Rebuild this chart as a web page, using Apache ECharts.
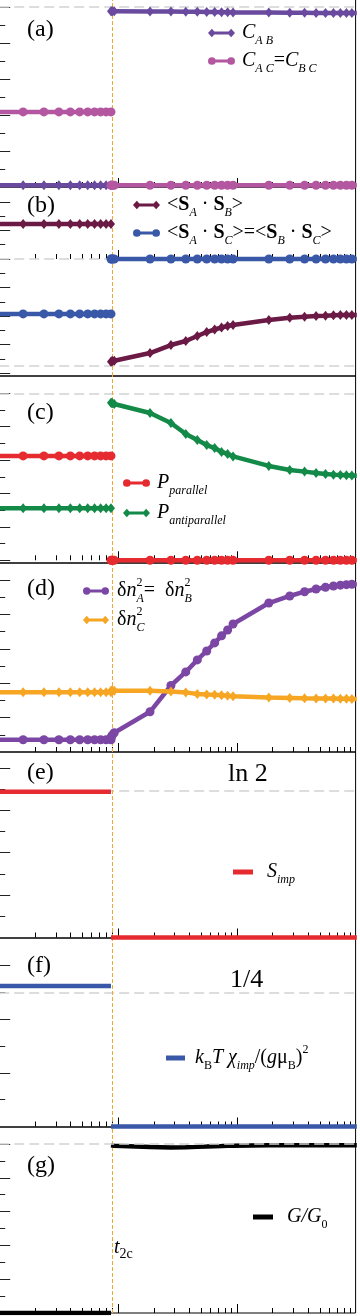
<!DOCTYPE html>
<html><head><meta charset="utf-8">
<script src="https://cdn.jsdelivr.net/npm/echarts@6/dist/echarts.min.js"></script>
<style>html,body{margin:0;padding:0;background:#fff}#c{width:360px;height:1316px}</style>
</head><body><div id="c"></div><script>
// ---------------- data ----------------
const T2C = 0.0873;
const tLeft  = [0.0079, 0.0159, 0.0238, 0.0318, 0.0397, 0.0476, 0.0556, 0.0635, 0.0714, 0.0794, 0.0873];
const tRight = [0.0873, 0.0885, 0.09, 0.093, 0.186, 0.279, 0.372, 0.465, 0.558, 0.651, 0.744, 0.837, 0.93,
                1.86, 2.79, 3.72, 4.65, 5.58, 6.51, 7.44, 8.37, 9.3, 10.23];

// (a) concurrences
const cAB_L = [0.01,0.01,0.01,0.01,0.01,0.01,0.01,0.01,0.01,0.01,0.01];
const cAB_R = [0.976,0.976,0.976,0.976,0.975,0.975,0.974,0.973,0.972,0.972,0.971,0.971,0.970,0.969,0.968,0.968,0.967,0.967,0.967,0.967,0.967,0.967,0.967];
const cAC_L = [0.417,0.417,0.417,0.417,0.417,0.417,0.417,0.417,0.417,0.417,0.417];
const cAC_R = [0.01,0.01,0.01,0.01,0.01,0.01,0.01,0.01,0.01,0.01,0.01,0.01,0.01,0.01,0.01,0.01,0.01,0.01,0.01,0.01,0.01,0.01,0.01];
// (b) spin correlations
const sAB_L = [0.245,0.245,0.245,0.245,0.245,0.245,0.245,0.245,0.245,0.245,0.245];
const sAB_R = [-0.72,-0.717,-0.715,-0.713,-0.659,-0.603,-0.575,-0.54,-0.512,-0.494,-0.48,-0.47,-0.4625,-0.427,-0.411,-0.404,-0.399,-0.397,-0.395,-0.393,-0.392,-0.392,-0.392];
const sAC_L = [-0.385,-0.385,-0.385,-0.385,-0.385,-0.385,-0.385,-0.385,-0.385,-0.385,-0.385];
const sAC_R = [0,0,0,0,0,0,0,0,0,0,0,0,0,0,0,0,0,0,0,0,0,0,0];
// (c) probabilities
const pPar_L = [0.625,0.625,0.625,0.625,0.625,0.625,0.625,0.625,0.625,0.625,0.625];
const pPar_R = [0,0,0,0,0,0,0,0,0,0,0,0,0,0,0,0,0,0,0,0,0,0,0];
const pAnti_L = [0.311,0.311,0.311,0.311,0.311,0.311,0.311,0.311,0.311,0.311,0.311];
const pAnti_R = [0.944,0.942,0.94,0.936,0.882,0.822,0.756,0.72,0.69,0.672,0.649,0.637,0.622,0.565,0.541,0.531,0.523,0.517,0.513,0.511,0.509,0.508,0.507];
// (d) charge fluctuations
const dnAB_L = [0.071,0.071,0.071,0.071,0.071,0.071,0.071,0.071,0.071,0.071,0.071];
const dnAB_R = [0.083,0.094,0.1,0.112,0.234,0.387,0.466,0.536,0.588,0.635,0.676,0.71,0.745,0.867,0.908,0.933,0.949,0.959,0.966,0.971,0.974,0.976,0.977];
const dnC_L = [0.348,0.348,0.348,0.348,0.348,0.348,0.348,0.348,0.348,0.348,0.348];
const dnC_R = [0.356,0.357,0.357,0.356,0.356,0.352,0.347,0.338,0.335,0.333,0.33,0.327,0.324,0.317,0.315,0.313,0.312,0.311,0.311,0.31,0.31,0.309,0.309];
// (e) entropy
const sImp_L = [0.688,0.688,0.688,0.688,0.688,0.688,0.688,0.688,0.688,0.688,0.688];
const sImp_R = [0,0,0,0,0,0,0,0,0,0,0,0,0,0,0,0,0,0,0,0,0,0,0];
// (f) susceptibility
const chi_L = [0.262,0.262,0.262,0.262,0.262,0.262,0.262,0.262,0.262,0.262,0.262];
const chi_R = [0,0,0,0,0,0,0,0,0,0,0,0,0,0,0,0,0,0,0,0,0,0,0];
// (g) conductance
const g_L = [0,0,0,0,0,0,0,0,0,0,0];
const g_R = [0.993,0.993,0.992,0.99,0.982,0.98,0.981,0.983,0.985,0.987,0.988,0.989,0.99,0.992,0.993,0.993,0.993,0.993,0.993,0.993,0.993,0.993,0.993];

// reference lines
const refA = [1.0], refB = [0, -0.75], refC = [1.0], refE = [0.693], refF = [0.25], refG = [1.0];

// ticks
const xMajorTicks = [0.1, 1];
const xMinorTicks = [0.02,0.03,0.04,0.05,0.06,0.07,0.08,0.09,0.2,0.3,0.4,0.5,0.6,0.7,0.8,0.9,2,3,4,5,6,7,8,9];
const yMajA = [0.2,0.4,0.6,0.8,1.0], yMinA = [0.1,0.3,0.5,0.7,0.9];
const yMajB = [-0.8,-0.6,-0.4,-0.2,0,0.2,0.4], yMinB = [-0.7,-0.5,-0.3,-0.1,0.1,0.3];
const yMajC = [0,0.2,0.4,0.6,0.8,1.0], yMinC = [0.1,0.3,0.5,0.7,0.9];
const yMajD = [0.2,0.4,0.6,0.8,1.0], yMinD = [0.1,0.3,0.5,0.7,0.9];
const yMajE = [0.2,0.4,0.6,0.8], yMinE = [0.1,0.3,0.5,0.7];
const yMajF = [0.1,0.2,0.3], yMinF = [0.05,0.15,0.25];
const yMajG = [0.2,0.4,0.6,0.8,1.0], yMinG = [0.1,0.3,0.5,0.7,0.9];

// ---------------- layout / style ----------------
const SERIF = '"Liberation Serif","DejaVu Serif",serif';
const panels = [
  {top:-2,  bottom:187,  ymin:0,       ymax:1.05,   maj:yMajA, min:yMinA, refs:refA, refZ:1},
  {top:187, bottom:376,  ymin:-0.82,   ymax:0.5046, maj:yMajB, min:yMinB, refs:refB, refZ:1},
  {top:376, bottom:563,  ymin:-0.0162, ymax:1.1036, maj:yMajC, min:yMinC, refs:refC, refZ:1},
  {top:563, bottom:752,  ymin:0,       ymax:1.1,    maj:yMajD, min:yMinD, refs:[],   refZ:1},
  {top:752, bottom:938,  ymin:-0.0024, ymax:0.875,  maj:yMajE, min:yMinE, refs:refE, refZ:1},
  {top:938, bottom:1127, ymin:-0.0009, ymax:0.3512, maj:yMajF, min:yMinF, refs:refF, refZ:1},
  {top:1127,bottom:1313, ymin:0,       ymax:1.1006, maj:yMajG, min:yMinG, refs:refG, refZ:6}
];

const grids=[], xAxes=[], yAxes=[], series=[];
panels.forEach((p,i)=>{
  grids.push({left:-0.8, width:356.4, top:p.top, height:p.bottom-p.top, show:true,
    borderColor:'#000', borderWidth:1, backgroundColor:'rgba(0,0,0,0)', containLabel:false, outerBoundsMode:'none'});
  const xa = (len, vals)=>({type:'log', logBase:10, gridIndex:i, min:0.01, max:10, position:'bottom',
    axisLine:{show:false}, axisLabel:{show:false}, splitLine:{show:false}, minorTick:{show:false},
    axisTick:{show:true, inside:true, length:len, customValues:vals, lineStyle:{color:'#000', width:1}}});
  xAxes.push(xa(9, xMajorTicks)); xAxes.push(xa(5, xMinorTicks));
  const ya = (len, vals)=>({type:'value', gridIndex:i, min:p.ymin, max:p.ymax, position:'left',
    axisLine:{show:false}, axisLabel:{show:false}, splitLine:{show:false},
    axisTick:{show:true, inside:true, length:len, customValues:vals, lineStyle:{color:'#222', width:1}}});
  yAxes.push(ya(11, p.maj)); yAxes.push(ya(6, p.min));
  if (p.refs.length) series.push({type:'line', name:'ref'+i, xAxisIndex:2*i, yAxisIndex:2*i, data:[], silent:true,
    markLine:{silent:true, animation:false, symbol:['none','none'], label:{show:false}, z:p.refZ,
      lineStyle:{color:'#d2d2d2', type:[10,5], width:1.5}, emphasis:{disabled:true},
      data:p.refs.map(v=>({yAxis:v}))}});
  series.push({type:'line', name:'t2c'+i, xAxisIndex:2*i, yAxisIndex:2*i, data:[], silent:true,
    markLine:{silent:true, animation:false, symbol:['none','none'], label:{show:false}, z:1,
      lineStyle:{color:'#f0a733', type:[4,2], width:1}, emphasis:{disabled:true},
      data:[{xAxis:T2C}]}});
});

function seg(name, gi, ts, vals, color, symbol, size){
  return {type:'line', name, xAxisIndex:2*gi, yAxisIndex:2*gi, data:ts.map((t,k)=>[t, vals[k]]),
    color, symbol, symbolSize:size, showSymbol:symbol!=='none', clip:true, z:3, animation:false,
    lineStyle:{width:4.5, color}, itemStyle:{color}, emphasis:{disabled:true}};
}
const C = {cab:'#6a4a9f', cac:'#b457a1', sab:'#6b1a45', sac:'#3a58a8', par:'#e62b30', anti:'#138a48',
           dab:'#7b46a4', dc:'#f6a623', s:'#e62b30', chi:'#3a58a8', g:'#000000'};
const DIA=[8,10], CIR=9;
series.push(
  seg('CAB',0,tLeft,cAB_L,C.cab,'diamond',DIA), seg('CAB',0,tRight,cAB_R,C.cab,'diamond',DIA),
  seg('CAC',0,tLeft,cAC_L,C.cac,'circle',CIR),  seg('CAC',0,tRight,cAC_R,C.cac,'circle',CIR),
  seg('SAB',1,tLeft,sAB_L,C.sab,'diamond',DIA), seg('SAB',1,tRight,sAB_R,C.sab,'diamond',DIA),
  seg('SAC',1,tLeft,sAC_L,C.sac,'circle',CIR),  seg('SAC',1,tRight,sAC_R,C.sac,'circle',CIR),
  seg('PPAR',2,tLeft,pPar_L,C.par,'circle',CIR), seg('PPAR',2,tRight,pPar_R,C.par,'circle',CIR),
  seg('PANTI',2,tLeft,pAnti_L,C.anti,'diamond',DIA), seg('PANTI',2,tRight,pAnti_R,C.anti,'diamond',DIA),
  seg('DNAB',3,tLeft,dnAB_L,C.dab,'circle',CIR), seg('DNAB',3,tRight,dnAB_R,C.dab,'circle',CIR),
  seg('DNC',3,tLeft,dnC_L,C.dc,'diamond',DIA),  seg('DNC',3,tRight,dnC_R,C.dc,'diamond',DIA),
  seg('SIMP',4,tLeft,sImp_L,C.s,'none',0),  seg('SIMP',4,tRight,sImp_R,C.s,'none',0),
  seg('CHI',5,tLeft,chi_L,C.chi,'none',0),  seg('CHI',5,tRight,chi_R,C.chi,'none',0),
  seg('GG0',6,tLeft,g_L,C.g,'none',0),      seg('GG0',6,tRight,g_R,C.g,'none',0)
);

const RICH = {
  i:{fontFamily:SERIF, fontStyle:'italic', fontSize:20, lineHeight:28, color:'#000'},
  r:{fontFamily:SERIF, fontSize:20, lineHeight:28, color:'#000'},
  b:{fontFamily:SERIF, fontWeight:'bold', fontSize:20, lineHeight:28, color:'#000'},
  s:{fontFamily:SERIF, fontStyle:'italic', fontSize:12, lineHeight:12, verticalAlign:'bottom', color:'#000'},
  sr:{fontFamily:SERIF, fontSize:12, lineHeight:12, verticalAlign:'bottom', color:'#000'},
  u:{fontFamily:SERIF, fontSize:12, lineHeight:12, verticalAlign:'top', color:'#000'},
  u0:{fontFamily:SERIF, fontSize:12, lineHeight:12, verticalAlign:'top', width:0, color:'#000'}
};
const LABELS = {
  CAB:'{i|C}{s|A B}',
  CAC:'{i|C}{s|A C}{r|=}{i|C}{s|B C}',
  SAB:'{r|<}{b|S}{s|A}{r| · }{b|S}{s|B}{r|>}',
  SAC:'{r|<}{b|S}{s|A}{r| · }{b|S}{s|C}{r|>=<}{b|S}{s|B}{r| · }{b|S}{s|C}{r|>}',
  PPAR:'{i|P}{s|parallel}',
  PANTI:'{i|P}{s|antiparallel}',
  DNAB:'{r|δ}{i|n}{u0|2}{s|A}{r|=  δ}{i|n}{u0|2}{s|B}',
  DNC:'{r|δ}{i|n}{u0|2}{s|C}',
  SIMP:'{i|S}{s|imp}',
  CHI:'{i|k}{sr|B}{i|T }{i|χ}{s|imp}{r|/(}{i|g}{r|μ}{sr|B}{r|)}{u|2}',
  GG0:'{i|G/G}{sr|0}'
};
const ICON_DIA = 'path://M0,5 L4,0.5 L8,5 L4,9.5 Z M4,3.4 L24,3.4 L24,6.6 L4,6.6 Z M20,5 L24,0.5 L28,5 L24,9.5 Z';
const ICON_CIR = 'path://M0,5 A4,4 0 1 1 8,5 A4,4 0 1 1 0,5 Z M4,3.4 L24,3.4 L24,6.6 L4,6.6 Z M20,5 A4,4 0 1 1 28,5 A4,4 0 1 1 20,5 Z';
const legendDefs = [
  {name:'CAB',  left:208, cy:37,   icon:ICON_DIA, w:27, h:9, pad:2},
  {name:'CAC',  left:208, cy:65,   icon:ICON_CIR, w:27, h:9, pad:2},
  {name:'SAB',  left:133, cy:209,  icon:ICON_DIA, w:27, h:9, pad:2},
  {name:'SAC',  left:133, cy:237,  icon:ICON_CIR, w:27, h:9, pad:2},
  {name:'PPAR', left:123, cy:487,  icon:ICON_CIR, w:27, h:9, pad:2},
  {name:'PANTI',left:123, cy:517,  icon:ICON_DIA, w:27, h:9, pad:2},
  {name:'DNAB', left:83,  cy:591,  icon:ICON_CIR, w:26, h:9, pad:3},
  {name:'DNC',  left:83,  cy:620,  icon:ICON_DIA, w:26, h:9, pad:3},
  {name:'SIMP', left:233, cy:876,  icon:'rect', w:20, h:5, pad:9},
  {name:'CHI',  left:166, cy:1058, icon:'rect', w:19, h:5, pad:5},
  {name:'GG0',  left:253, cy:1221, icon:'rect', w:20, h:5, pad:9}
];
const legends = legendDefs.map(d=>({
  data:[{name:d.name, icon:d.icon}], left:d.left, top:d.cy-14, padding:0, orient:'vertical',
  itemWidth:d.w, itemHeight:d.h, selectedMode:false, formatter:n=>LABELS[n],
  textStyle:{color:'#000', padding:[0,0,0,d.pad], rich:RICH}
}));

const lab = (txt, y)=>({type:'text', x:27, y, silent:true,
  style:{text:txt, font:'24px '+SERIF, fill:'#000', verticalAlign:'middle', align:'left'}});
const graphic = [
  lab('(a)',30), lab('(b)',206), lab('(c)',413), lab('(d)',589), lab('(e)',773), lab('(f)',966), lab('(g)',1166),
  {type:'text', x:228, y:774, silent:true, style:{text:'ln 2', font:'26px '+SERIF, fill:'#000', verticalAlign:'middle'}},
  {type:'text', x:230, y:980, silent:true, style:{text:'1/4', font:'26px '+SERIF, fill:'#000', verticalAlign:'middle'}},
  {type:'text', x:114, y:1248, silent:true, style:{text:'{t|t}{s|2c}', verticalAlign:'middle',
    rich:{t:{fontFamily:SERIF, fontStyle:'italic', fontSize:20, lineHeight:26, fill:'#000'},
          s:{fontFamily:SERIF, fontSize:14, lineHeight:14, verticalAlign:'bottom', fill:'#000'}}}}
];

const chart = echarts.init(document.getElementById('c'), null, {renderer:'canvas'});
chart.setOption({
  animation:false, backgroundColor:'#fff',
  grid:grids, xAxis:xAxes, yAxis:yAxes, series, legend:legends, graphic
});
</script></body></html>
